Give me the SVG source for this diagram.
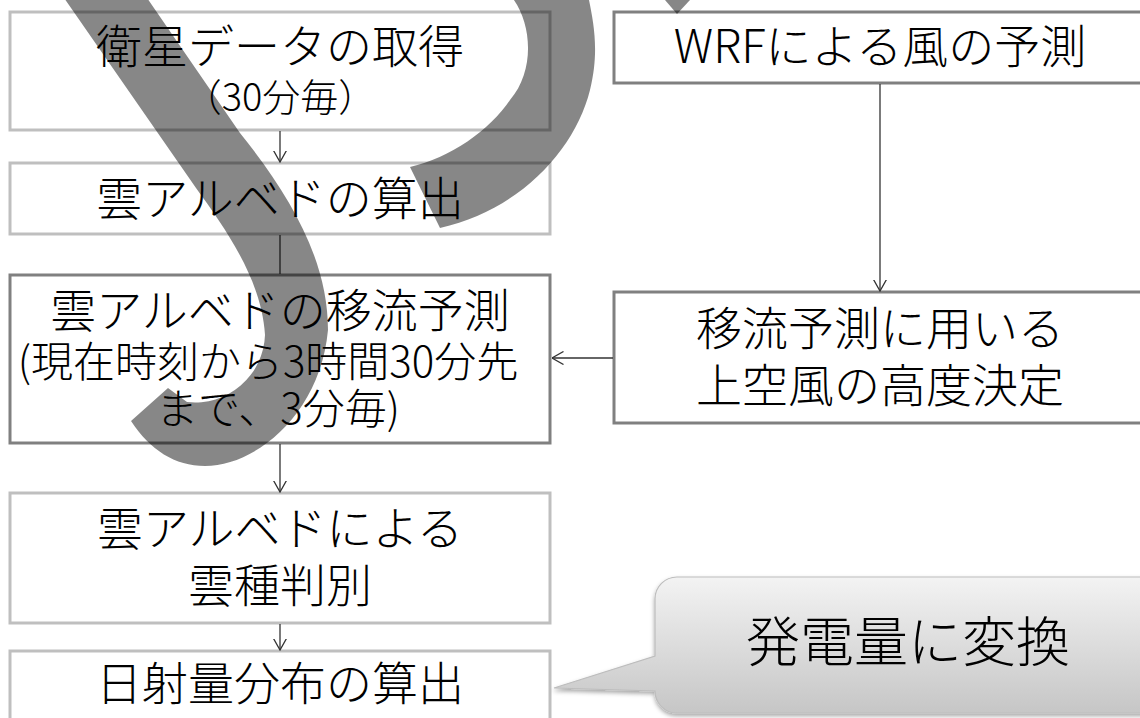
<svg xmlns="http://www.w3.org/2000/svg" width="1140" height="718" viewBox="0 0 1140 718">
<defs>
<style>
.bl{fill:#fff;stroke:#bfbfbf;stroke-width:3}
.bd{fill:#fff;stroke:#808080;stroke-width:3}
text{font-family:"Noto Sans CJK JP","Noto Sans",sans-serif;font-weight:300;fill:#000;text-anchor:middle}
.t{font-size:46px}
.s{font-size:42px}
.c{stroke:#333;stroke-width:1.3;fill:none}
.ov{fill:#000;fill-opacity:0.47}
</style>
<marker id="ah" viewBox="0 0 12 14" refX="11.5" refY="7" markerWidth="12" markerHeight="14" markerUnits="userSpaceOnUse" orient="auto">
<path d="M0,0.5 L11.5,7 L0,13.5" fill="none" stroke="#333" stroke-width="1.3"/>
</marker>
<linearGradient id="cg" x1="0" y1="0" x2="0" y2="1">
<stop offset="0" stop-color="#f3f3f3"/>
<stop offset="1" stop-color="#c6c6c6"/>
</linearGradient>
<filter id="sh" x="-10%" y="-10%" width="130%" height="130%">
<feDropShadow dx="0" dy="2.5" stdDeviation="2" flood-color="#000" flood-opacity="0.35"/>
</filter>
</defs>
<rect width="1140" height="718" fill="#fff"/>

<g id="n1"><rect class="bl" x="10" y="12" width="540" height="118"/>
<text class="t" x="280" y="63">衛星データの取得</text>
<text x="280" y="111" style="font-size:38px">（30分毎）</text></g>

<g id="n2"><rect class="bl" x="10" y="163" width="540" height="71"/>
<text class="t" x="280" y="215">雲アルベドの算出</text></g>

<g id="n3"><rect class="bd" x="10" y="275" width="540" height="168"/>
<text class="t" x="280" y="327">雲アルベドの移流予測</text>
<text class="s" x="268" y="377">(現在時刻から3時間30分先</text>
<text class="s" x="278" y="424">まで、3分毎)</text></g>

<g id="n4"><rect class="bl" x="10" y="493" width="540" height="130"/>
<text class="t" x="280" y="545">雲アルベドによる</text>
<text class="t" x="280" y="602">雲種判別</text></g>

<g id="n5"><rect class="bl" x="10" y="651" width="540" height="80"/>
<text class="t" x="280" y="700">日射量分布の算出</text></g>

<g id="n6"><rect class="bd" x="614" y="12" width="540" height="71"/>
<text class="t" x="880" y="63">WRFによる風の予測</text></g>

<g id="n7"><rect class="bd" x="614" y="292" width="540" height="131"/>
<text class="t" x="880" y="345">移流予測に用いる</text>
<text class="t" x="880" y="402">上空風の高度決定</text></g>

<g id="connectors">
<line class="c" x1="280" y1="131" x2="280" y2="162" marker-end="url(#ah)"/>
<line class="c" x1="280" y1="235" x2="280" y2="274"/>
<line class="c" x1="280" y1="444" x2="280" y2="492" marker-end="url(#ah)"/>
<line class="c" x1="280" y1="624" x2="280" y2="650" marker-end="url(#ah)"/>
<line class="c" x1="880" y1="84" x2="880" y2="291" marker-end="url(#ah)"/>
<line class="c" x1="613" y1="358" x2="552" y2="358" marker-end="url(#ah)"/>
</g>

<g id="callout">
<path d="M677,577 H1170 V713 H677 A22,22 0 0 1 655,691 L554,688 L655,656 V599 A22,22 0 0 1 677,577 Z" fill="url(#cg)" stroke="#bdbdbd" stroke-width="1.2" filter="url(#sh)"/>
<text x="908" y="662" style="font-size:54px">発電量に変換</text>
</g>

<g id="overlay">
<path class="ov" d="M62,-5 L196,188 C225,228 262,280 265,335 A70,70 0 0 1 187,402 L168,388 L131,421 C150,450 175,466 205,466 C255,466 320,415 328,330 C328,260 290,195 240,133 L145,-5 Z"/>
<path class="ov" d="M510,-5 C532,20 536,70 510,100 C490,130 450,158 410,167 L440,228 C520,210 575,150 590,90 C600,50 593,20 588,-5 Z"/>
<polygon class="ov" points="665,0 690,0 677,14"/>
</g>
</svg>
